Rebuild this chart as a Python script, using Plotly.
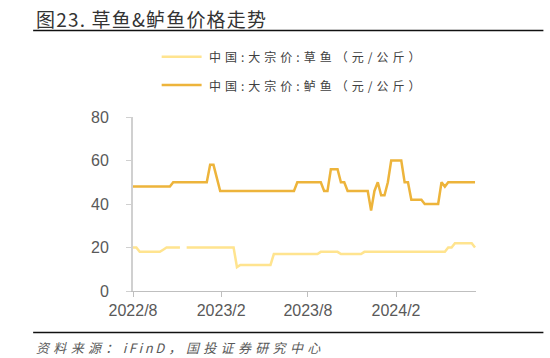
import pandas as pd
import plotly.graph_objects as go

# ---- data (weekly) ----
start_date = "2022-08-01"
n_weeks = 103
dates = pd.date_range(start_date, periods=n_weeks, freq="7D")

grass_carp = [
    20, 20, 18, 18, 18, 18, 18, 18, 18, 19,
    20, 20, 20, 20, 20, None, 20, 20, 20, 20,
    20, 20, 20, 20, 20, 20, 20, 20, 20, 20,
    20, 11, 12, 12, 12, 12, 12, 12, 12, 12,
    12, 12, 17, 17, 17, 17, 17, 17, 17, 17,
    17, 17, 17, 17, 17, 17, 18, 18, 18, 18,
    18, 18, 17, 17, 17, 17, 17, 17, 17, 18,
    18, 18, 18, 18, 18, 18, 18, 18, 18, 18,
    18, 18, 18, 18, 18, 18, 18, 18, 18, 18,
    18, 18, 18, 18, 20, 20, 22, 22, 22, 22,
    22, 22, 20,
]

perch = [
    48, 48, 48, 48, 48, 48, 48, 48, 48, 48,
    48, 48, 50, 50, 50, 50, 50, 50, 50, 50,
    50, 50, 50, 58, 58, 52, 46, 46, 46, 46,
    46, 46, 46, 46, 46, 46, 46, 46, 46, 46,
    46, 46, 46, 46, 46, 46, 46, 46, 46, 50,
    50, 50, 50, 50, 50, 50, 50, 46, 46, 56,
    56, 56, 50, 50, 46, 46, 46, 46, 46, 46,
    46, 37, 46, 50, 44, 44, 50, 60, 60, 60,
    60, 50, 50, 42, 42, 42, 42, 40, 40, 40,
    40, 40, 50, 48, 50, 50, 50, 50, 50, 50,
    50, 50, 50,
]

series_names = ["中国:大宗价:草鱼（元/公斤）", "中国:大宗价:鲈鱼（元/公斤）"]
series_colors = ["#FFE48F", "#EDB43B"]

x_tick_dates = ["2022-08-01", "2023-02-01", "2023-08-01", "2024-02-01"]
x_tick_labels = ["2022/8", "2023/2", "2023/8", "2024/2"]
y_tick_vals = [0, 20, 40, 60, 80]

title_text = "图23. 草鱼&鲈鱼价格走势"
source_text = "资料来源：iFinD，国投证券研究中心"

# ---- layout geometry (screen pixels) ----
W, H = 550, 358
PL, PR, PT, PB = 133, 476.5, 117, 291
pw, ph = PR - PL, PB - PT


def px_x(px):
    return (px - PL) / pw


def px_y(py):
    return (PB - py) / ph


def spaced(s, sep):
    return sep.join(list(s))


def spaced_source(s):
    out = []
    for i, ch in enumerate(s):
        out.append(ch)
        if i < len(s) - 1:
            nxt = s[i + 1]
            if ch.isascii() and nxt.isascii():
                out.append("\u2009")
            else:
                out.append("\u2004")
    return "".join(out)


CJK = "Noto Sans CJK SC"
LAT = "Liberation Sans, Arial"

fig = go.Figure()
for vals, name, col in zip([grass_carp, perch], series_names, series_colors):
    fig.add_trace(go.Scatter(
        x=dates, y=vals, mode="lines", name=name,
        line=dict(color=col, width=2.5),
        connectgaps=False, showlegend=False,
    ))

shapes = []
annotations = []
for yy in (30.5, 332.5):
    shapes.append(dict(type="line", xref="paper", yref="paper",
                       x0=px_x(33), x1=px_x(544), y0=px_y(yy), y1=px_y(yy),
                       line=dict(color="#111111", width=1.6)))
for i, (name, col) in enumerate(zip(series_names, series_colors)):
    yy = [56.7, 85.0][i]
    shapes.append(dict(type="line", xref="paper", yref="paper",
                       x0=px_x(161.7), x1=px_x(201.7), y0=px_y(yy), y1=px_y(yy),
                       line=dict(color=col, width=2.5)))
    annotations.append(dict(xref="paper", yref="paper", x=px_x(207.5), y=px_y(yy),
                            xanchor="left", yanchor="middle", showarrow=False,
                            text=spaced(name, "\u2004"),
                            font=dict(family=CJK, size=12, color="#404040")))

annotations.append(dict(xref="paper", yref="paper", x=px_x(34), y=px_y(18),
                        xanchor="left", yanchor="middle", showarrow=False,
                        text=spaced(title_text, "\u200A"),
                        font=dict(family=CJK, size=19, color="#333333")))
annotations.append(dict(xref="paper", yref="paper", x=px_x(34), y=px_y(347.5),
                        xanchor="left", yanchor="middle", showarrow=False,
                        text=spaced_source(source_text),
                        font=dict(family=CJK, size=13, color="#595959", style="italic")))

fig.update_layout(
    width=W, height=H,
    margin=dict(l=PL, r=W - PR, t=PT, b=H - PB, pad=0),
    paper_bgcolor="white", plot_bgcolor="white",
    shapes=shapes, annotations=annotations,
    showlegend=False,
    xaxis=dict(
        type="date", range=["2022-08-01", "2024-07-17"],
        tickvals=x_tick_dates, ticktext=x_tick_labels,
        showgrid=False, zeroline=False,
        showline=True, linecolor="#BFBFBF", linewidth=1,
        ticks="outside", ticklen=5, tickcolor="#BFBFBF", tickwidth=1,
        tickfont=dict(family=LAT, size=16, color="#595959"),
    ),
    yaxis=dict(
        range=[0, 80], tickvals=y_tick_vals,
        showgrid=False, zeroline=False,
        showline=True, linecolor="#D0D0D0", linewidth=2,
        ticks="outside", ticklen=5, tickcolor="#D0D0D0", tickwidth=1,
        ticklabelstandoff=14,
        tickfont=dict(family=LAT, size=16, color="#595959"),
    ),
)

fig.write_html(
    "out.html",
    config={"displayModeBar": False},
    post_script="document.body.style.margin='0px';document.body.style.overflow='hidden';",
)
